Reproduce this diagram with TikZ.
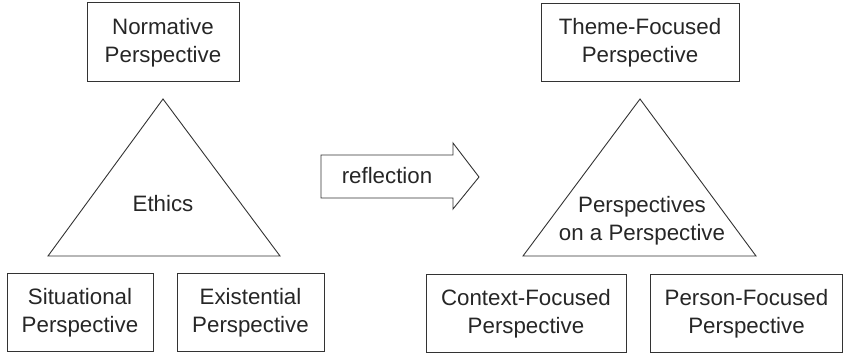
\documentclass[tikz,border=0pt]{standalone}
\usepackage{fontspec}
\setmainfont{Liberation Sans}
\begin{document}
\begin{tikzpicture}[x=1pt,y=-1pt,
  txt/.style={font=\fontsize{22.3}{28}\selectfont, text=black!85, align=center},
  pbox/.style={txt, draw=black!80, line width=1pt, inner sep=0pt},
  shapeline/.style={draw=black!80, line width=0.9pt, line join=miter}]
\useasboundingbox (0,0) rectangle (844,355);
% left side
\node[pbox, minimum width=152pt, minimum height=79pt] (norm) at (163,42.5) {Normative\\Perspective};
\draw[shapeline] (163,99) -- (48,256) -- (280,256) -- cycle;
\node[txt] (ethics) at (163,204) {Ethics};
\node[pbox, minimum width=146pt, minimum height=78pt] (sit) at (80,313) {Situational\\Perspective};
\node[pbox, minimum width=147pt, minimum height=78pt] (exi) at (250.5,313) {Existential\\Perspective};
% arrow
\draw[shapeline] (321,155) -- (453,155) -- (453,143) -- (479,177) -- (453,209) -- (453,198) -- (321,198) -- cycle;
\node[txt] (refl) at (387,176) {reflection};
% right side
\node[pbox, minimum width=198pt, minimum height=78pt] (theme) at (640,43) {Theme-Focused\\Perspective};
\draw[shapeline] (640,99) -- (523,256) -- (756,256) -- cycle;
\node[txt] (pop) at (642,221) {Perspectives\\on a Perspective};
\node[pbox, minimum width=200pt, minimum height=78pt] (ctx) at (526,313.5) {Context-Focused\\Perspective};
\node[pbox, minimum width=192pt, minimum height=78pt] (pers) at (746.5,313.5) {Person-Focused\\Perspective};
\end{tikzpicture}
\end{document}
